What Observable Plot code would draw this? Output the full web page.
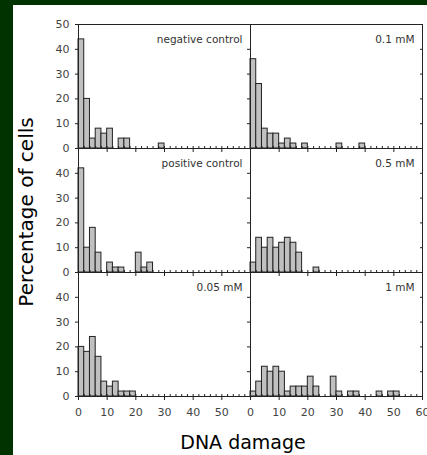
<!DOCTYPE html>
<html>
<head>
<meta charset="utf-8">
<script src="https://cdn.jsdelivr.net/npm/d3@7"></script>
<script src="https://cdn.jsdelivr.net/npm/@observablehq/plot@0.6"></script>
<style>
  html, body { margin: 0; padding: 0; }
  body { width: 427px; height: 455px; background: #003300; position: relative; overflow: hidden; font-family: "DejaVu Sans", sans-serif; }
  #paper { position: absolute; left: 13px; top: 5px; width: 414px; height: 450px; background: #fff; }
  #chart { position: absolute; left: 0; top: 0; }
  #ylab { position: absolute; left: 26px; top: 212px; transform: translate(-50%, -50%) rotate(-90deg); white-space: nowrap; font-size: 20px; line-height: 1; color: #000; }
  #xlab { position: absolute; left: 243px; top: 442px; transform: translate(-50%, -50%); white-space: nowrap; font-size: 19px; line-height: 1; color: #000; }
</style>
</head>
<body>
<div id="paper"></div>
<div id="chart"></div>
<div id="ylab">Percentage of cells</div>
<div id="xlab">DNA damage</div>
<script>
// Panels (reading order: left/right, top to bottom)
const panelNames = ["negative control", "0.1 mM", "positive control", "0.5 mM", "0.05 mM", "1 mM"];
const panelCols = [0, 1, 0, 1, 0, 1];
const panelRows = [0, 0, 1, 1, 2, 2];

// Histogram bin width (DNA damage units); counts start at 0
const binWidth = 2;

// Percentage of cells per bin
const negativeControl = [44, 20, 4, 8, 6, 8, 0, 4, 4, 0, 0, 0, 0, 0, 2];
const conc01mM = [36, 26, 8, 6, 6, 2, 4, 2, 0, 2, 0, 0, 0, 0, 0, 2, 0, 0, 0, 2];
const positiveControl = [42, 10, 18, 8, 0, 4, 2, 2, 0, 0, 8, 2, 4];
const conc05mM = [4, 14, 10, 14, 10, 12, 14, 12, 8, 0, 0, 2];
const conc005mM = [20, 18, 24, 16, 6, 4, 6, 2, 2, 2];
const conc1mM = [2, 6, 12, 10, 12, 10, 2, 4, 4, 4, 8, 4, 0, 0, 8, 2, 0, 2, 2, 0, 0, 0, 2, 0, 2, 2];
const panelCounts = [negativeControl, conc01mM, positiveControl, conc05mM, conc005mM, conc1mM];

// Axis ticks
const xMajorTicks = [0, 10, 20, 30, 40, 50, 60];
const xMinorTicks = [0, 2, 4, 6, 8, 10, 12, 14, 16, 18, 20, 22, 24, 26, 28, 30, 32, 34, 36, 38, 40, 42, 44, 46, 48, 50, 52, 54, 56, 58, 60];
const yTicks = [0, 10, 20, 30, 40, 50];

// Build tables
const bars = panelCounts.flatMap((counts, p) =>
  counts.map((v, i) => ({col: panelCols[p], row: panelRows[p], x1: i * binWidth, x2: (i + 1) * binWidth, y: v}))
).filter(d => d.y > 0);

const labels = panelNames.map((name, p) => ({col: panelCols[p], row: panelRows[p], name}));

const yLabelRows = [0, 1, 2];
const yTickLabels = yLabelRows.flatMap(r =>
  yTicks.filter(v => r === 0 || v < 50).map(v => ({col: 0, row: r, v}))
);

const xLabelCols = [0, 1];
const xTickLabels = xLabelCols.flatMap(c =>
  xMajorTicks.filter(v => c === 1 || v < 60).map(v => ({col: c, row: 2, v}))
);

const ink = "#222";

const chart = Plot.plot({
  width: 427,
  height: 455,
  marginLeft: 77,
  marginTop: 23,
  marginRight: 5,
  marginBottom: 58,
  style: {background: "transparent", fontFamily: "DejaVu Sans, sans-serif", overflow: "visible"},
  x: {domain: [0, 60], label: null},
  y: {domain: [0, 50], label: null},
  fx: {domain: [0, 1], padding: 0, axis: null},
  fy: {domain: [0, 1, 2], padding: 0, axis: null},
  marks: [
    Plot.rect(bars, {fx: "col", fy: "row", x1: "x1", x2: "x2", y1: () => 0, y2: "y", fill: "#c0c0c0", stroke: ink, strokeWidth: 1}),
    Plot.frame({stroke: ink, strokeWidth: 1}),
    // y ticks outward on left of every panel
    Plot.axisY({ticks: yTicks, tickSize: 3, fill: "none", stroke: ink, facetAnchor: null, label: null}),
    // y ticks inward on right edge
    Plot.axisY({ticks: yTicks, anchor: "right", tickSize: -3, fill: "none", stroke: ink, label: null}),
    // x major ticks down, minor ticks up
    Plot.axisX({ticks: xMajorTicks, tickSize: 4, fill: "none", stroke: ink, facetAnchor: null, label: null}),
    Plot.axisX({ticks: xMinorTicks, tickSize: -2, fill: "none", stroke: ink, facetAnchor: null, label: null}),
    // x tick labels on bottom row
    Plot.text(xTickLabels, {fx: "col", fy: "row", x: "v", text: d => String(d.v), frameAnchor: "bottom", lineAnchor: "top", dy: 12, fill: "#444", fontSize: 11}),
    // y tick labels
    Plot.text(yTickLabels, {fx: "col", fy: "row", y: "v", text: d => String(d.v), frameAnchor: "left", textAnchor: "end", dx: -9, fill: "#444", fontSize: 11}),
    // panel labels
    Plot.text(labels, {fx: "col", fy: "row", text: "name", frameAnchor: "top-right", textAnchor: "end", lineAnchor: "middle", dx: -8, dy: 15, fill: "#333", fontSize: 10.5})
  ]
});
document.getElementById("chart").appendChild(chart);
</script>
</body>
</html>
